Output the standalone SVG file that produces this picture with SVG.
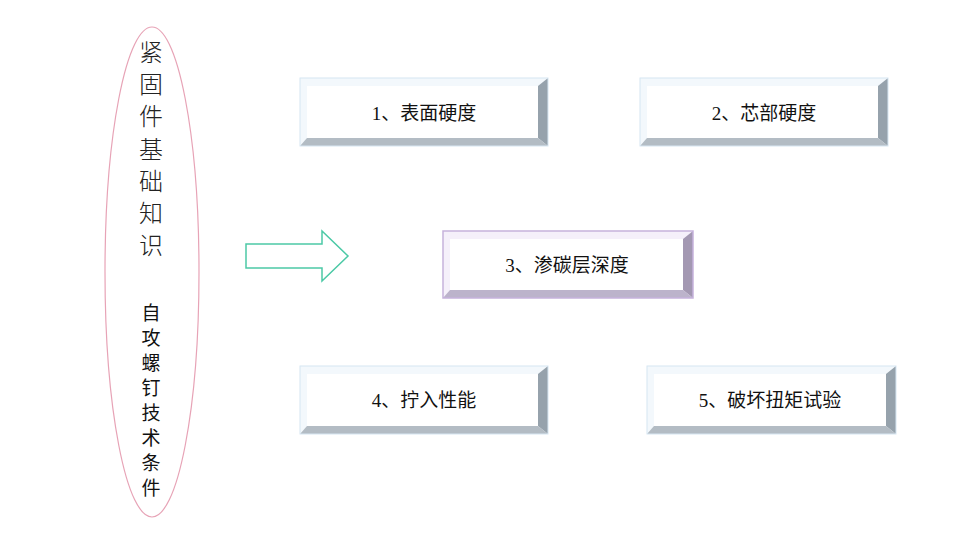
<svg xmlns="http://www.w3.org/2000/svg" width="960" height="537" viewBox="0 0 960 537">
<style>
.lbl{font-family:"Liberation Serif","Noto Sans CJK SC",serif;font-size:19px;fill:#111;text-anchor:middle}
.face{fill:#ffffff}
.tl{fill:#f3f8fc}
.out{fill:none;stroke:#d6e6f2;stroke-width:1}
.rb{fill:#96a2ac}
.bb{fill:#b3bcc4}
.tlp{fill:#f5f0fa}
.outp{fill:none;stroke:#c6b2dc;stroke-width:1.5}
.rbp{fill:#a398b2}
.bbp{fill:#bcb3cb}
.t1{font-family:"Noto Sans CJK SC",sans-serif;font-weight:300;font-size:24px;fill:#222;text-anchor:middle}
.t2{font-family:"Noto Sans CJK SC",sans-serif;font-weight:400;font-size:19px;fill:#111;text-anchor:middle}
</style>
<rect width="960" height="537" fill="#ffffff"/>
<g id="title">
<ellipse cx="152" cy="272" rx="47" ry="245" fill="none" stroke="#e7a3b6" stroke-width="1.2"/>
<text class="t1" x="151" y="61">紧</text>
<text class="t1" x="151" y="93">固</text>
<text class="t1" x="151" y="125">件</text>
<text class="t1" x="151" y="158">基</text>
<text class="t1" x="151" y="190">础</text>
<text class="t1" x="151" y="222">知</text>
<text class="t1" x="151" y="254">识</text>
<text class="t2" x="151" y="320">自</text>
<text class="t2" x="151" y="345">攻</text>
<text class="t2" x="151" y="370">螺</text>
<text class="t2" x="151" y="395">钉</text>
<text class="t2" x="151" y="420">技</text>
<text class="t2" x="151" y="445">术</text>
<text class="t2" x="151" y="470">条</text>
<text class="t2" x="151" y="495">件</text>
</g>
<g id="connectors">
<path d="M246,244 L322,244 L322,231 L348,256 L322,281 L322,268 L246,268 Z" fill="#ffffff" stroke="#4cc9a6" stroke-width="1.5"/>
</g>
<g id="n1">
<rect x="300" y="78" width="248" height="68" class="tl"/>
<polygon points="548,78 548,146 538,138 538,86" class="rb"/>
<polygon points="300,146 548,146 538,138 307,138" class="bb"/>
<rect x="307" y="86" width="231" height="52" class="face"/>
<rect x="300" y="78" width="248" height="68" class="out"/>
<text class="lbl" x="424" y="120">1、表面硬度</text>
</g>
<g id="n2">
<rect x="640" y="78" width="248" height="68" class="tl"/>
<polygon points="888,78 888,146 878,138 878,86" class="rb"/>
<polygon points="640,146 888,146 878,138 647,138" class="bb"/>
<rect x="647" y="86" width="231" height="52" class="face"/>
<rect x="640" y="78" width="248" height="68" class="out"/>
<text class="lbl" x="764" y="120">2、芯部硬度</text>
</g>
<g id="n3">
<rect x="443" y="231" width="250" height="67" class="tlp"/>
<polygon points="693,231 693,298 683,290 683,239" class="rbp"/>
<polygon points="443,298 693,298 683,290 450,290" class="bbp"/>
<rect x="450" y="239" width="233" height="51" class="face"/>
<rect x="443" y="231" width="250" height="67" class="outp"/>
<text class="lbl" x="567" y="272">3、渗碳层深度</text>
</g>
<g id="n4">
<rect x="300" y="366" width="248" height="68" class="tl"/>
<polygon points="548,366 548,434 538,426 538,374" class="rb"/>
<polygon points="300,434 548,434 538,426 307,426" class="bb"/>
<rect x="307" y="374" width="231" height="52" class="face"/>
<rect x="300" y="366" width="248" height="68" class="out"/>
<text class="lbl" x="424" y="407">4、拧入性能</text>
</g>
<g id="n5">
<rect x="647" y="366" width="249" height="68" class="tl"/>
<polygon points="896,366 896,434 886,426 886,374" class="rb"/>
<polygon points="647,434 896,434 886,426 654,426" class="bb"/>
<rect x="654" y="374" width="232" height="52" class="face"/>
<rect x="647" y="366" width="249" height="68" class="out"/>
<text class="lbl" x="770" y="407">5、破坏扭矩试验</text>
</g>
</svg>
